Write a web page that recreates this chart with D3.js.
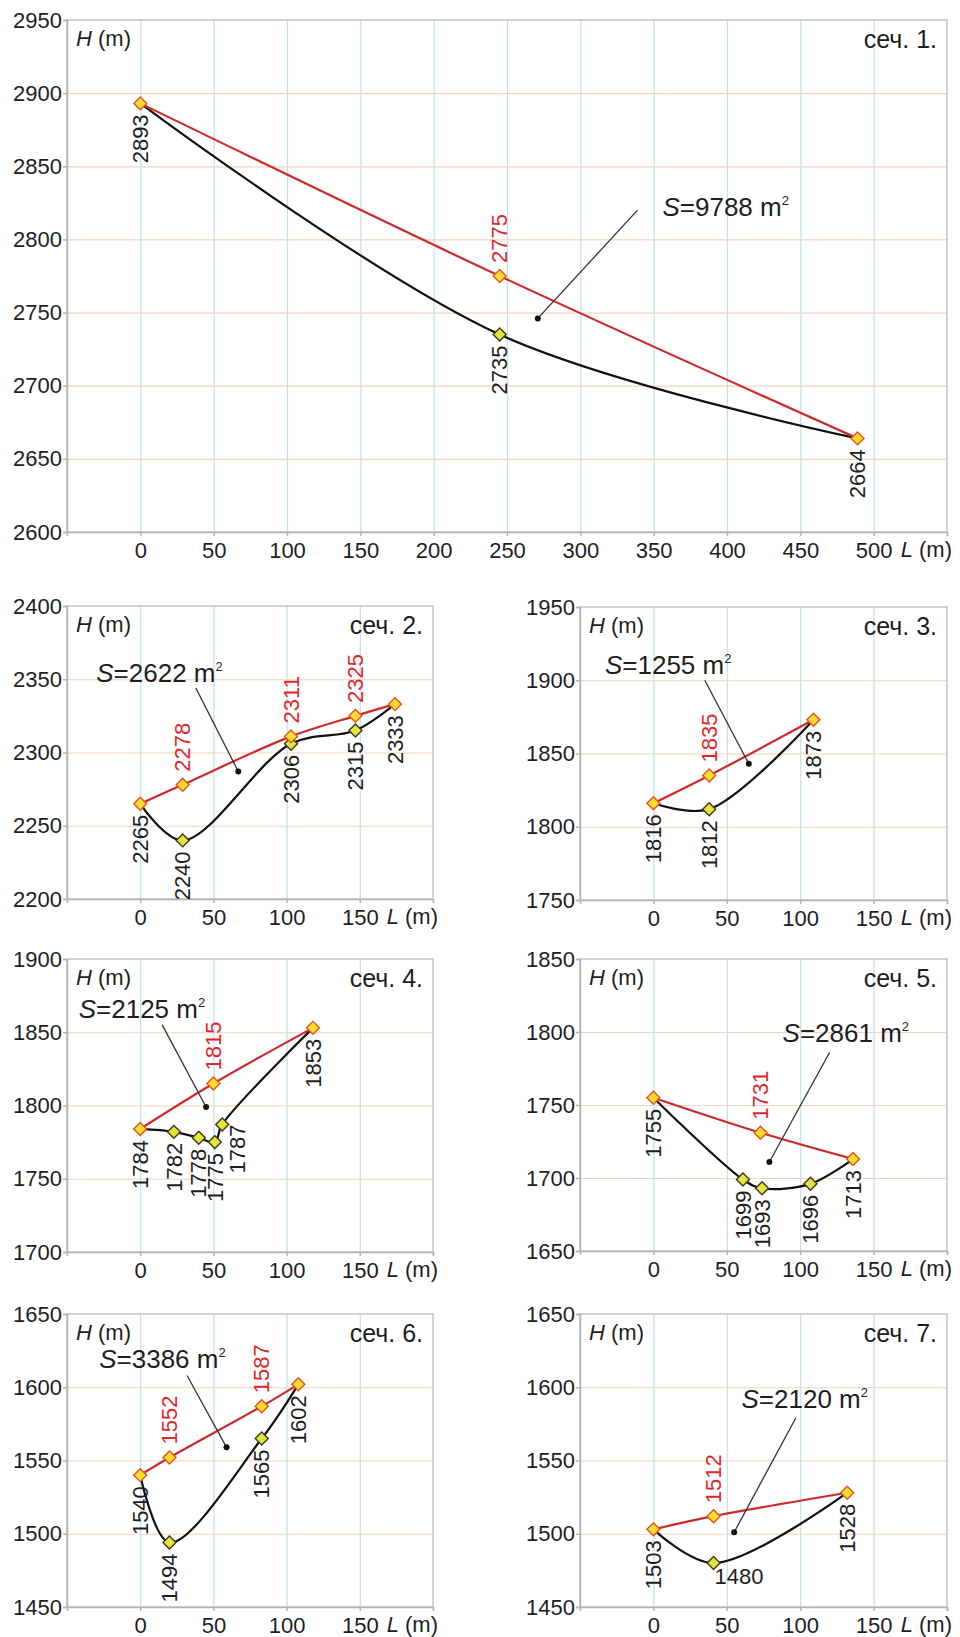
<!DOCTYPE html>
<html lang="ru">
<head>
<meta charset="utf-8">
<title>Поперечные сечения</title>
<style>
  body { margin: 0; background: #fff; }
  svg { display: block; font-family: "Liberation Sans", Arial, sans-serif; }
  .grid path { display: none; }
  .grid-v line { stroke: #c2e0e8; stroke-width: 1.2; }
  .grid-h line { stroke: #f3d3bf; stroke-width: 1.2; }
  .axis path, .axis line { stroke: #b4b4b4; stroke-width: 1.5; }
  .axis text { font-size: 22px; fill: #1e1e1e; }
</style>
</head>
<body>
<script src="https://d3js.org/d3.v7.min.js"></script>
<script>
// profiles, [L (m), H (m)]: top = straight chord (red), ground = terrain (black)
var top1 = [[0, 2893], [245, 2775], [489, 2664]];
var ground1 = [[0, 2893], [245, 2735], [489, 2664]];
var top2 = [[0, 2265], [29, 2278], [103, 2311], [147, 2325], [174, 2333]];
var ground2 = [[0, 2265], [29, 2240], [103, 2306], [147, 2315], [174, 2333]];
var top3 = [[0, 1816], [38, 1835], [109, 1873]];
var ground3 = [[0, 1816], [38, 1812], [109, 1873]];
var top4 = [[0, 1784], [50, 1815], [118, 1853]];
var ground4 = [[0, 1784], [23, 1782], [40, 1778], [51, 1775], [56, 1787], [118, 1853]];
var top5 = [[0, 1755], [73, 1731], [136, 1713]];
var ground5 = [[0, 1755], [61, 1699], [74, 1693], [107, 1696], [136, 1713]];
var top6 = [[0, 1540], [20, 1552], [83, 1587], [108, 1602]];
var ground6 = [[0, 1540], [20, 1494], [83, 1565], [108, 1602]];
var top7 = [[0, 1503], [41, 1512], [132, 1528]];
var ground7 = [[0, 1503], [41, 1480], [132, 1528]];

var areas = [9788, 2622, 1255, 2125, 2861, 3386, 2120];
var names = ["сеч. 1.", "сеч. 2.", "сеч. 3.", "сеч. 4.", "сеч. 5.", "сеч. 6.", "сеч. 7."];

var xTicksBig = [0, 50, 100, 150, 200, 250, 300, 350, 400, 450, 500];
var xTicksSmall = [0, 50, 100, 150];
var yTicks1 = [2600, 2650, 2700, 2750, 2800, 2850, 2900, 2950];
var yTicks2 = [2200, 2250, 2300, 2350, 2400];
var yTicks3 = [1750, 1800, 1850, 1900, 1950];
var yTicks4 = [1700, 1750, 1800, 1850, 1900];
var yTicks5 = [1650, 1700, 1750, 1800, 1850];
var yTicks6 = [1450, 1500, 1550, 1600, 1650];
var yTicks7 = [1450, 1500, 1550, 1600, 1650];

// layout of each little chart; note = S label, leader start, leader dot (data units)
var panels = [
  { top: top1, ground: ground1, yTicks: yTicks1, xTicks: xTicksBig, xMax: 550,
    left: 67, right: 947, y0: 20, y1: 532,
    note: { text: [356, 2816], from: [339, 2820], to: [271, 2746] } },
  { top: top2, ground: ground2, yTicks: yTicks2, xTicks: xTicksSmall, xMax: 200,
    left: 67, right: 433, y0: 606, y1: 899,
    note: { text: [-30, 2348], from: [38, 2344], to: [67, 2287] } },
  { top: top3, ground: ground3, yTicks: yTicks3, xTicks: xTicksSmall, xMax: 200,
    left: 580, right: 947, y0: 607, y1: 900,
    note: { text: [-33, 1904], from: [35, 1900], to: [65, 1843] } },
  { top: top4, ground: ground4, yTicks: yTicks4, xTicks: xTicksSmall, xMax: 200,
    left: 67, right: 433, y0: 959, y1: 1252,
    note: { text: [-42, 1860], from: [15, 1855], to: [45, 1799] } },
  { top: top5, ground: ground5, yTicks: yTicks5, xTicks: xTicksSmall, xMax: 200,
    left: 580, right: 947, y0: 959, y1: 1251,
    note: { text: [88, 1793], from: [120, 1786], to: [79, 1711] } },
  { top: top6, ground: ground6, yTicks: yTicks6, xTicks: xTicksSmall, xMax: 200,
    left: 67, right: 433, y0: 1314, y1: 1607,
    note: { text: [-28, 1613], from: [32, 1608], to: [59, 1559] } },
  { top: top7, ground: ground7, yTicks: yTicks7, xTicks: xTicksSmall, xMax: 200,
    left: 580, right: 947, y0: 1314, y1: 1607,
    note: { text: [60, 1586], from: [97, 1579], to: [55, 1501] } }
];

// hand placed labels that would collide
var labelNudge = { "4:1787": { dx: 15, dy: -11 }, "7:1480": { flat: true } };

var svg = d3.select("body").append("svg")
  .attr("width", 960)
  .attr("height", 1637);

var curve = d3.curveCatmullRom.alpha(0.5);
var gap = 11;

panels.forEach(function (p, i) {
  var n = i + 1;
  var x = d3.scaleLinear().domain([-50, p.xMax]).range([p.left, p.right]);
  var y = d3.scaleLinear().domain([p.yTicks[0], p.yTicks[p.yTicks.length - 1]]).range([p.y1, p.y0]);
  var g = svg.append("g");
  var w = p.right - p.left, h = p.y1 - p.y0;

  // grid
  g.append("g")
    .attr("class", "grid grid-v")
    .attr("transform", "translate(0," + p.y1 + ")")
    .call(d3.axisBottom(x).tickValues(p.xTicks).tickSize(-h).tickFormat(""));
  g.append("g")
    .attr("class", "grid grid-h")
    .attr("transform", "translate(" + p.left + ",0)")
    .call(d3.axisLeft(y).tickValues(p.yTicks.slice(1, -1)).tickSize(-w).tickFormat(""));

  g.append("rect")
    .attr("x", p.left).attr("y", p.y0)
    .attr("width", w).attr("height", h)
    .attr("fill", "none")
    .attr("stroke", "#c4c4c4")
    .attr("stroke-width", 1.5);

  // axes
  g.append("g")
    .attr("class", "axis")
    .attr("transform", "translate(" + p.left + ",0)")
    .call(d3.axisLeft(y).tickValues(p.yTicks).tickSize(4).tickPadding(1).tickFormat(d3.format("d")));
  g.append("g")
    .attr("class", "axis")
    .attr("transform", "translate(0," + p.y1 + ")")
    .call(d3.axisBottom(x).tickValues(p.xTicks.concat([p.xMax])).tickSize(4).tickPadding(6)
      .tickFormat(function (d) { return d === p.xMax ? "" : d; }));

  var lt = g.append("text")
    .attr("x", p.right + 5)
    .attr("y", p.y1 + 25)
    .attr("text-anchor", "end")
    .style("font-size", "22px")
    .attr("fill", "#1e1e1e");
  lt.append("tspan").style("font-style", "italic").text("L");
  lt.append("tspan").text(" (m)");

  var ht = g.append("text")
    .attr("x", p.left + 9)
    .attr("y", p.y0 + 26)
    .style("font-size", "22px")
    .attr("fill", "#1e1e1e");
  ht.append("tspan").style("font-style", "italic").text("H");
  ht.append("tspan").text(" (m)");

  g.append("text")
    .attr("x", p.right - 10)
    .attr("y", p.y0 + 28)
    .attr("text-anchor", "end")
    .style("font-size", "25px")
    .attr("fill", "#1e1e1e")
    .text(names[i]);

  // profiles
  var line = d3.line()
    .x(function (d) { return x(d[0]); })
    .y(function (d) { return y(d[1]); })
    .curve(curve);

  g.append("path")
    .datum(p.ground)
    .attr("d", line)
    .attr("fill", "none")
    .attr("stroke", "#111")
    .attr("stroke-width", 2.2);
  g.append("path")
    .datum(p.top)
    .attr("d", line)
    .attr("fill", "none")
    .attr("stroke", "#cf2a2a")
    .attr("stroke-width", 2.2);

  // area note with leader
  g.append("line")
    .attr("x1", x(p.note.from[0])).attr("y1", y(p.note.from[1]))
    .attr("x2", x(p.note.to[0])).attr("y2", y(p.note.to[1]))
    .attr("stroke", "#333")
    .attr("stroke-width", 1.3);
  g.append("circle")
    .attr("cx", x(p.note.to[0])).attr("cy", y(p.note.to[1]))
    .attr("r", 3)
    .attr("fill", "#111");
  var st = g.append("text")
    .attr("x", x(p.note.text[0]))
    .attr("y", y(p.note.text[1]))
    .style("font-size", "26px")
    .attr("fill", "#1e1e1e");
  st.append("tspan").style("font-style", "italic").text("S");
  st.append("tspan").text("=" + areas[i] + " m");
  st.append("tspan").attr("dy", -11).style("font-size", "13px").text("2");

  // markers
  var diamond = d3.symbol().type(d3.symbolSquare).size(84);
  var inner = p.ground.slice(1, -1);
  g.selectAll(".gm")
    .data(inner)
    .enter()
    .append("path")
    .attr("d", diamond)
    .attr("transform", function (d) { return "translate(" + x(d[0]) + "," + y(d[1]) + ") rotate(45)"; })
    .attr("fill", "#e4e43a")
    .attr("stroke", "#3a3a1a")
    .attr("stroke-width", 1.4);
  g.selectAll(".tm")
    .data(p.top)
    .enter()
    .append("path")
    .attr("d", diamond)
    .attr("transform", function (d) { return "translate(" + x(d[0]) + "," + y(d[1]) + ") rotate(45)"; })
    .attr("fill", "#ffdc2e")
    .attr("stroke", "#e6531f")
    .attr("stroke-width", 1.4);

  // value labels
  p.ground.forEach(function (d) {
    var nud = labelNudge[n + ":" + d[1]] || {};
    if (nud.flat) {
      g.append("text")
        .attr("x", x(d[0]) + 1)
        .attr("y", y(d[1]) + 21)
        .style("font-size", "22px")
        .attr("fill", "#1e1e1e")
        .text(d[1]);
      return;
    }
    g.append("text")
      .attr("transform", "translate(" + (x(d[0]) + (nud.dx || 0)) + "," + (y(d[1]) + gap + (nud.dy || 0)) + ") rotate(-90)")
      .attr("text-anchor", "end")
      .attr("dy", "0.35em")
      .style("font-size", "22px")
      .attr("fill", "#1e1e1e")
      .text(d[1]);
  });
  p.top.slice(1, -1).forEach(function (d) {
    g.append("text")
      .attr("transform", "translate(" + x(d[0]) + "," + (y(d[1]) - gap - 2) + ") rotate(-90)")
      .attr("text-anchor", "start")
      .attr("dy", "0.35em")
      .style("font-size", "22px")
      .attr("fill", "#e0282c")
      .text(d[1]);
  });
});
</script>
</body>
</html>
